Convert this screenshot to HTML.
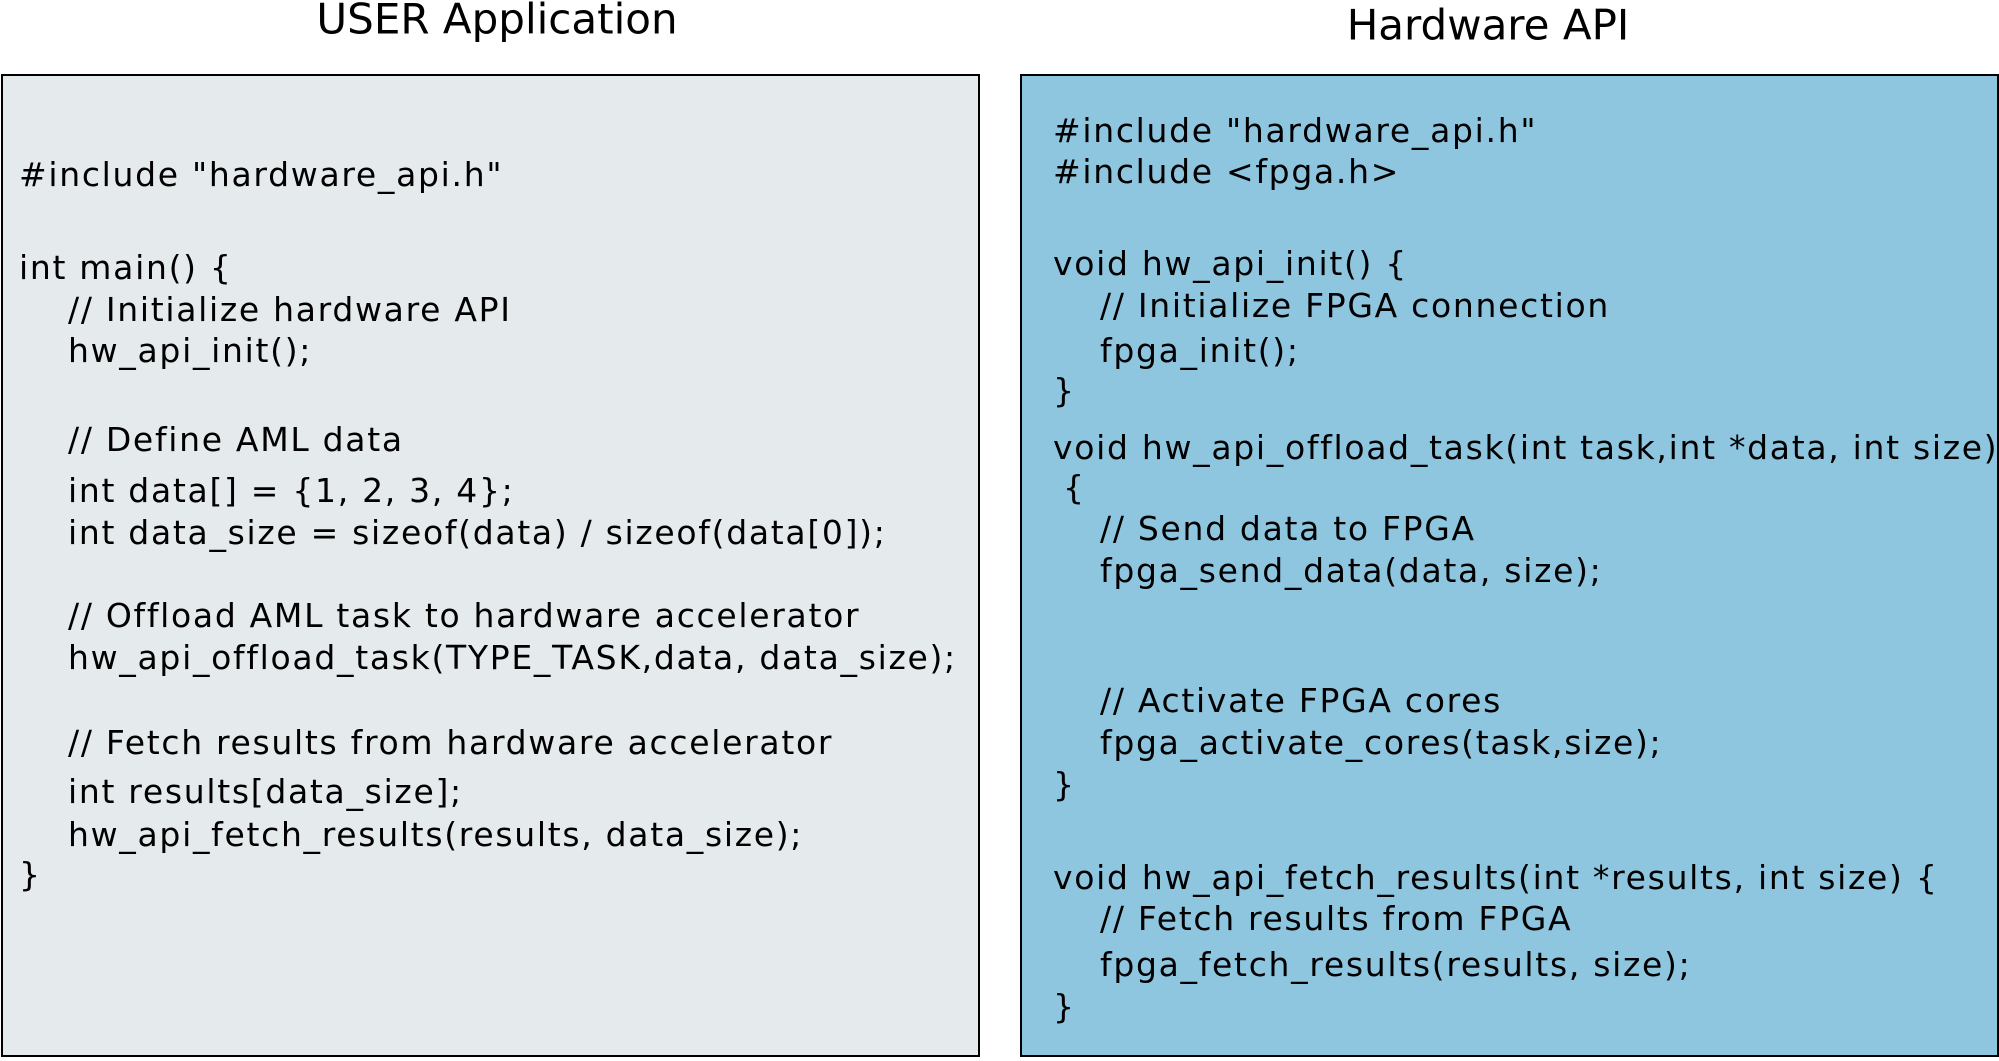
<!DOCTYPE html>
<html><head><meta charset="utf-8"><style>
body{margin:0;width:1999px;height:1061px;background:#fff;position:relative;overflow:hidden;font-family:"DejaVu Sans","Liberation Sans",sans-serif;color:#000}
.box{position:absolute;top:74px;height:983px;border:2px solid #000;box-sizing:border-box}
.l{position:absolute;white-space:pre;font-size:33px;letter-spacing:1.7px;line-height:40px;height:40px}
.t{position:absolute;font-size:42px;white-space:nowrap;transform:translate(-50%,-50%)}
</style></head><body>
<div class="t" style="left:497px;top:19px">USER Application</div>
<div class="t" style="left:1488px;top:25px">Hardware API</div>
<div class="box" style="left:1px;width:979px;background:#e5eaed"></div>
<div class="box" style="left:1020px;width:979px;background:#8ec6e0"></div>

<div class="l" style="left:19px;top:155px">#include "hardware_api.h"</div>
<div class="l" style="left:19px;top:248px">int main() {</div>
<div class="l" style="left:68px;top:290px">// Initialize hardware API</div>
<div class="l" style="left:68px;top:331px">hw_api_init();</div>
<div class="l" style="left:68px;top:420px">// Define AML data</div>
<div class="l" style="left:68px;top:471px">int data[] = {1, 2, 3, 4};</div>
<div class="l" style="left:68px;top:513px">int data_size = sizeof(data) / sizeof(data[0]);</div>
<div class="l" style="left:68px;top:596px">// Offload AML task to hardware accelerator</div>
<div class="l" style="left:68px;top:638px">hw_api_offload_task(TYPE_TASK,data, data_size);</div>
<div class="l" style="left:68px;top:723px">// Fetch results from hardware accelerator</div>
<div class="l" style="left:68px;top:772px">int results[data_size];</div>
<div class="l" style="left:68px;top:815px">hw_api_fetch_results(results, data_size);</div>
<div class="l" style="left:19px;top:855px">}</div>

<div class="l" style="left:1053px;top:111px">#include "hardware_api.h"</div>
<div class="l" style="left:1053px;top:152px">#include &lt;fpga.h&gt;</div>
<div class="l" style="left:1053px;top:244px">void hw_api_init() {</div>
<div class="l" style="left:1100px;top:286px">// Initialize FPGA connection</div>
<div class="l" style="left:1100px;top:331px">fpga_init();</div>
<div class="l" style="left:1053px;top:371px">}</div>
<div class="l" style="left:1053px;top:428px">void hw_api_offload_task(int task,int *data, int size)</div>
<div class="l" style="left:1063px;top:468px">{</div>
<div class="l" style="left:1100px;top:509px">// Send data to FPGA</div>
<div class="l" style="left:1100px;top:551px">fpga_send_data(data, size);</div>
<div class="l" style="left:1100px;top:681px">// Activate FPGA cores</div>
<div class="l" style="left:1100px;top:723px">fpga_activate_cores(task,size);</div>
<div class="l" style="left:1053px;top:765px">}</div>
<div class="l" style="left:1053px;top:858px">void hw_api_fetch_results(int *results, int size) {</div>
<div class="l" style="left:1100px;top:899px">// Fetch results from FPGA</div>
<div class="l" style="left:1100px;top:945px">fpga_fetch_results(results, size);</div>
<div class="l" style="left:1053px;top:987px">}</div>
</body></html>
